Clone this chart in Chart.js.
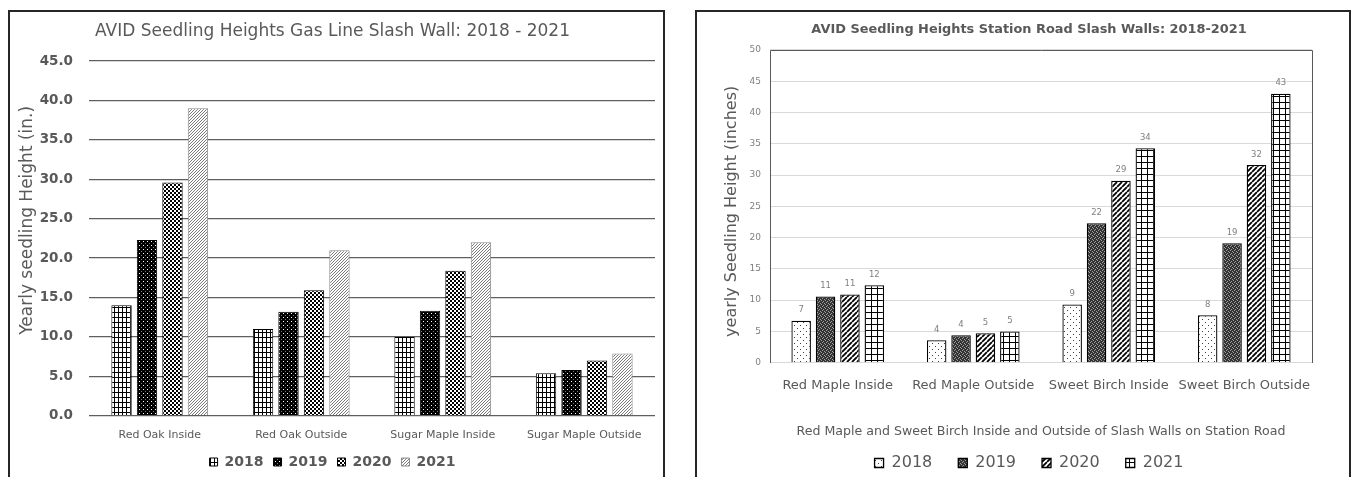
<!DOCTYPE html>
<html><head><meta charset="utf-8">
<script src="https://cdn.jsdelivr.net/npm/chart.js@4.4.1/dist/chart.umd.min.js"></script>
<style>
html,body{margin:0;padding:0;background:#fff;overflow:hidden;width:1351px;height:477px;}
.box{position:absolute;border:2px solid #262626;top:10px;background:#fff;}
#boxA{left:8px;width:653px;height:480px;}
#boxB{left:695px;width:652px;height:480px;}
canvas{display:block;}
</style></head><body>
<div class="box" id="boxA"><canvas id="cA" width="653" height="470" style="width:653px;height:470px"></canvas></div>
<div class="box" id="boxB"><canvas id="cB" width="652" height="470" style="width:652px;height:470px"></canvas></div>
<script>
// ---------- data ----------
const years = ['2018', '2019', '2020', '2021'];

const gasTitle = 'AVID Seedling Heights Gas Line Slash Wall: 2018 - 2021';
const gasYTitle = 'Yearly seedling Height (in.)';
const gasCategories = ['Red Oak Inside', 'Red Oak Outside', 'Sugar Maple Inside', 'Sugar Maple Outside'];
const gas2018 = [14.0, 11.0, 10.0, 5.4];
const gas2019 = [22.3, 13.2, 13.3, 5.8];
const gas2020 = [29.6, 15.9, 18.4, 7.0];
const gas2021 = [39.0, 21.0, 22.0, 7.9];

const stationTitle = 'AVID Seedling Heights Station Road Slash Walls: 2018-2021';
const stationYTitle = 'yearly Seedling Height (inches)';
const stationXTitle = 'Red Maple and Sweet Birch Inside and Outside of Slash Walls on Station Road';
const stationCategories = ['Red Maple Inside', 'Red Maple Outside', 'Sweet Birch Inside', 'Sweet Birch Outside'];
const station2018 = [6.7, 3.6, 9.3, 7.6];
const station2019 = [10.6, 4.4, 22.3, 19.1];
const station2020 = [10.9, 4.7, 29.1, 31.6];
const station2021 = [12.4, 5.0, 34.3, 43.0];

// ---------- helpers ----------
Chart.defaults.font.family = "'DejaVu Sans', sans-serif";

function pat(ctx, w, h, draw) {
  const c = document.createElement('canvas');
  c.width = w; c.height = h;
  const g = c.getContext('2d');
  draw(g, w, h);
  return ctx.createPattern(c, 'repeat');
}

const yTitlePlugin = {
  id: 'yTitle',
  afterDraw(chart, args, o) {
    const {ctx, chartArea} = chart;
    ctx.save();
    ctx.font = o.font;
    ctx.fillStyle = o.color;
    ctx.textAlign = 'center';
    ctx.textBaseline = 'middle';
    ctx.translate(chartArea.left - o.dx, (chartArea.top + chartArea.bottom) / 2 + o.dy);
    ctx.rotate(-Math.PI / 2);
    ctx.fillText(o.text, 0, 0);
    ctx.restore();
  }
};

const plotBorderPlugin = {
  id: 'plotBorder',
  beforeDatasetsDraw(chart, args, o) {
    const {ctx, chartArea: a} = chart;
    ctx.save();
    ctx.strokeStyle = o.color;
    ctx.lineWidth = 1;
    ctx.beginPath();
    const l = Math.round(a.left) + 0.5, r = Math.round(a.right) + 0.5, t = Math.round(a.top) + 0.5, b = Math.round(a.bottom);
    ctx.moveTo(l, b); ctx.lineTo(l, t); ctx.lineTo(r, t); ctx.lineTo(r, b);
    ctx.stroke();
    ctx.restore();
  }
};

const barLabelPlugin = {
  id: 'barLabels',
  afterDatasetsDraw(chart, args, o) {
    const {ctx} = chart;
    ctx.save();
    ctx.font = o.font;
    ctx.fillStyle = o.color;
    ctx.textAlign = 'center';
    ctx.textBaseline = 'middle';
    chart.data.datasets.forEach((ds, i) => {
      chart.getDatasetMeta(i).data.forEach((bar, j) => {
        ctx.fillText(String(Math.round(ds.data[j])), bar.x, bar.y - o.offset);
      });
    });
    ctx.restore();
  }
};

// ---------- chart A ----------
const ctxA = document.getElementById('cA').getContext('2d');
const patsA = [
  pat(ctxA, 4, 5, (g) => { g.fillStyle = '#fff'; g.fillRect(0, 0, 4, 5); g.fillStyle = '#000'; g.fillRect(0, 0, 4, 1); g.fillRect(0, 0, 1, 5); }),
  pat(ctxA, 4, 4, (g) => { g.fillStyle = '#000'; g.fillRect(0, 0, 4, 4); g.fillStyle = '#fff'; g.fillRect(1, 1, 1, 1); g.fillStyle = '#777'; g.fillRect(3, 3, 1, 1); }),
  pat(ctxA, 4, 4, (g) => { g.fillStyle = '#fff'; g.fillRect(0, 0, 4, 4); g.fillStyle = '#000'; g.fillRect(0, 0, 2, 2); g.fillRect(2, 2, 2, 2); }),
  pat(ctxA, 3, 3, (g) => { g.fillStyle = '#fff'; g.fillRect(0, 0, 3, 3); g.fillStyle = '#7a7a7a'; g.fillRect(2, 0, 1, 1); g.fillRect(1, 1, 1, 1); g.fillRect(0, 2, 1, 1); })
];
const gasSeries = [gas2018, gas2019, gas2020, gas2021];

new Chart(ctxA, {
  type: 'bar',
  data: {
    labels: gasCategories,
    datasets: years.map((y, i) => ({
      label: y, data: gasSeries[i], xAxisID: 'x', yAxisID: 'y',
      backgroundColor: patsA[i], borderColor: i === 3 ? '#8a8a8a' : '#000', borderWidth: 1,
      categoryPercentage: 0.72, barPercentage: 0.8
    }))
  },
  options: {
    responsive: false, animation: false, devicePixelRatio: 1,
    layout: {padding: {left: 0, right: 8, top: 0, bottom: 3}},
    plugins: {
      title: {display: true, text: gasTitle, color: '#595959', font: {size: 17, weight: 'normal'}, padding: {top: 9.5, bottom: 19.1}},
      legend: {position: 'bottom', labels: {color: '#595959', font: {size: 14, weight: 'bold'}, boxWidth: 8, boxHeight: 8, padding: 10}},
      tooltip: {enabled: false},
      yTitle: {text: gasYTitle, font: "17px 'DejaVu Sans'", color: '#595959', dx: 61, dy: -18}
    },
    scales: {
      x: {
        grid: {display: false}, border: {display: false},
        ticks: {color: '#595959', font: {size: 11}, padding: 5, maxRotation: 0, autoSkip: false},
        afterFit: (s) => { s.height = 29.3; }
      },
      y: {
        min: 0, max: 45,
        ticks: {stepSize: 5, color: '#595959', font: {size: 13.5, weight: 'bold'}, padding: 16, callback: (v) => v.toFixed(1)},
        grid: {color: '#5f5f5f', lineWidth: 1.2, drawTicks: false},
        border: {display: false},
        afterFit: (s) => { s.width = 79; }
      }
    }
  },
  plugins: [yTitlePlugin]
});

// ---------- chart B ----------
const ctxB = document.getElementById('cB').getContext('2d');
const patsB = [
  pat(ctxB, 6, 6, (g) => { g.fillStyle = '#fff'; g.fillRect(0, 0, 6, 6); g.fillStyle = '#444'; g.fillRect(1, 1, 1, 1); g.fillRect(4, 4, 1, 1); }),
  pat(ctxB, 4, 4, (g) => { g.fillStyle = '#333'; g.fillRect(0, 0, 4, 4); g.fillStyle = '#a0a0a0'; g.fillRect(0, 0, 1, 1); g.fillRect(2, 1, 1, 1); g.fillRect(1, 2, 1, 1); g.fillRect(3, 3, 1, 1); }),
  pat(ctxB, 5, 5, (g) => { g.fillStyle = '#fff'; g.fillRect(0, 0, 5, 5); g.strokeStyle = '#000'; g.lineWidth = 1.8; g.beginPath(); [-5, 0, 5].forEach((k) => { g.moveTo(k, 5); g.lineTo(k + 5, 0); }); g.stroke(); }),
  pat(ctxB, 6, 6, (g) => { g.fillStyle = '#fff'; g.fillRect(0, 0, 6, 6); g.fillStyle = '#000'; g.fillRect(0, 0, 6, 1); g.fillRect(0, 0, 1, 6); })
];
const stationSeries = [station2018, station2019, station2020, station2021];

new Chart(ctxB, {
  type: 'bar',
  data: {
    labels: stationCategories,
    datasets: years.map((y, i) => ({
      label: y, data: stationSeries[i], xAxisID: 'x', yAxisID: 'y',
      backgroundColor: patsB[i], borderColor: '#000', borderWidth: 1.3,
      categoryPercentage: 0.72, barPercentage: 0.8
    }))
  },
  options: {
    responsive: false, animation: false, devicePixelRatio: 1,
    layout: {padding: {left: 12, right: 0, top: 0, bottom: 1}},
    plugins: {
      title: {display: true, text: stationTitle, color: '#595959', font: {size: 12.9, weight: 'bold'}, padding: {top: 10, bottom: 12.5}},
      legend: {position: 'bottom', labels: {color: '#595959', font: {size: 16}, boxWidth: 9, boxHeight: 9, padding: 26}},
      tooltip: {enabled: false},
      yTitle: {text: stationYTitle, font: "16px 'DejaVu Sans'", color: '#595959', dx: 38, dy: 5},
      plotBorder: {color: '#595959'},
      barLabels: {font: "8.5px 'DejaVu Sans'", color: '#7f7f7f', offset: 10.5}
    },
    scales: {
      x: {
        grid: {display: false}, border: {display: false},
        ticks: {color: '#595959', font: {size: 13}, padding: 7, maxRotation: 0, autoSkip: false},
        title: {display: true, text: stationXTitle, color: '#595959', font: {size: 12.6}, padding: {top: 0, bottom: -10}},
        afterFit: (s) => { s.height = 66.3; }
      },
      y: {
        min: 0, max: 50,
        ticks: {stepSize: 5, color: '#7f7f7f', font: {size: 9}, padding: 9},
        grid: {color: '#d9d9d9', lineWidth: 1, drawTicks: false},
        border: {display: false},
        afterFit: (s) => { s.width = 61; }
      },
      yR: {
        position: 'right', display: true,
        grid: {display: false}, border: {display: false}, ticks: {display: false},
        afterFit: (s) => { s.width = 37; }
      }
    }
  },
  plugins: [yTitlePlugin, plotBorderPlugin, barLabelPlugin]
});
</script>
</body></html>
